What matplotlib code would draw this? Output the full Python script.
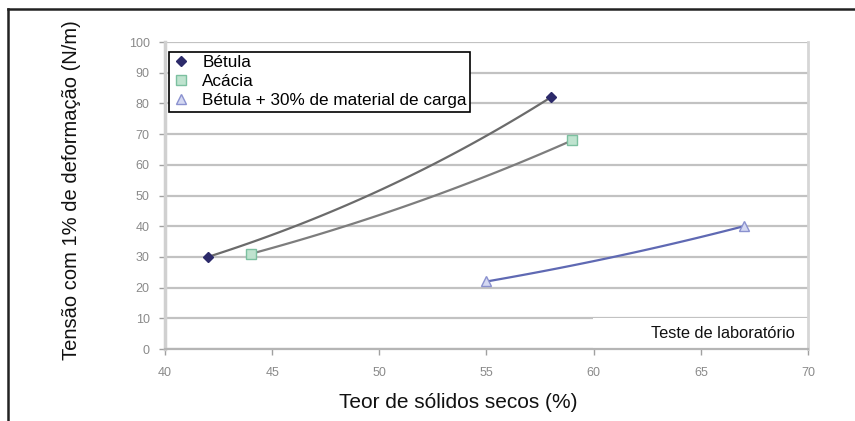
import numpy as np
import matplotlib
matplotlib.use("Agg")
import matplotlib.pyplot as plt
from matplotlib.lines import Line2D
from matplotlib.patches import Rectangle

plt.rcParams['font.family'] = ['Liberation Sans', 'DejaVu Sans']

# Measured points (dry solids %, tension at 1% strain N/m)
series_names = ["Bétula", "Acácia", "Bétula + 30% de material de carga"]
betula_x = [42, 58]
betula_y = [30, 82]
acacia_x = [44, 59]
acacia_y = [31, 68]
carga_x = [55, 67]
carga_y = [22, 40]

x_ticks = [40, 45, 50, 55, 60, 65, 70]
y_ticks = [0, 10, 20, 30, 40, 50, 60, 70, 80, 90, 100]
x_label = "Teor de sólidos secos (%)"
y_label = "Tensão com 1% de deformação (N/m)"
note = "Teste de laboratório"

fig = plt.figure(figsize=(8.55, 4.21), dpi=100)
ax = fig.add_axes([0.193, 0.171, 0.752, 0.729])

def power_trend(xs, ys, n=60):
    # power trendline y = a*x^b fitted to the measured points
    b, ln_a = np.polyfit(np.log(xs), np.log(ys), 1)
    xx = np.linspace(min(xs), max(xs), n)
    return xx, np.exp(ln_a) * xx ** b

styles = [
    (betula_x, betula_y, "#6b6b6b", dict(marker="D", ms=5, mfc="#2c2a6a", mec="#2c2a6a")),
    (acacia_x, acacia_y, "#7d7d7d", dict(marker="s", ms=6.5, mfc="#bfe3cf", mec="#7cc0a0")),
    (carga_x, carga_y, "#5f69b3", dict(marker="^", ms=7, mfc="#d4d8f2", mec="#8a91cf")),
]

handles = []
for (xs, ys, lc, mk), name in zip(styles, series_names):
    xx, yy = power_trend(xs, ys)
    ax.plot(xx, yy, color=lc, lw=1.6, zorder=3)
    ax.plot(xs, ys, ls="none", zorder=4, **mk)
    handles.append(Line2D([], [], ls="none", **mk))

ax.set_xlim(40, 70)
ax.set_ylim(0, 100)
ax.set_xticks(x_ticks)
ax.set_yticks(y_ticks)
ax.tick_params(axis="both", colors="#a0a0a0", labelcolor="#8a8a8a",
               labelsize=9, length=4, width=1, direction="out")
ax.tick_params(axis="x", pad=9)
ax.tick_params(axis="y", pad=7)

ax.yaxis.grid(True, color="#c2c2c2", lw=1.6)
ax.set_axisbelow(True)
ax.spines["top"].set_visible(False)
ax.spines["left"].set_color("#d0d0d0")
ax.spines["left"].set_linewidth(2.5)
ax.spines["right"].set_color("#d6d6d6")
ax.spines["right"].set_linewidth(2)
ax.spines["bottom"].set_color("#b5b5b5")
ax.spines["bottom"].set_linewidth(1.6)

ax.set_xlabel(x_label, fontsize=15, color="#111111")
ax.xaxis.set_label_coords(0.456, -0.143)
ax.set_ylabel(y_label, fontsize=14.5, color="#111111")
ax.yaxis.set_label_coords(-0.131, 0.518)

leg = ax.legend(handles, series_names, loc="upper left",
                bbox_to_anchor=(0.006, 0.969), fontsize=12.3, frameon=True,
                fancybox=False, edgecolor="black", framealpha=1,
                handletextpad=0.75, borderpad=0.2, labelspacing=0.24,
                handlelength=1.0, borderaxespad=0)
leg.get_frame().set_linewidth(1.2)

# white label box in the lower right corner
ax.add_patch(Rectangle((0.665, 0.0), 0.335, 0.1, transform=ax.transAxes,
                       facecolor="white", edgecolor="none", zorder=2.5))
ax.text(0.98, 0.052, note, transform=ax.transAxes, ha="right", va="center",
        fontsize=11.8, color="#111111", zorder=5)

# outer frame edges
fig.add_artist(Line2D([8 / 855, 1], [1 - 9 / 421, 1 - 9 / 421],
                      transform=fig.transFigure, color="#222222", lw=1.8))
fig.add_artist(Line2D([8 / 855, 8 / 855], [0, 1 - 9 / 421],
                      transform=fig.transFigure, color="#222222", lw=1.8))

fig.savefig("out.png", dpi=100, facecolor="white")
